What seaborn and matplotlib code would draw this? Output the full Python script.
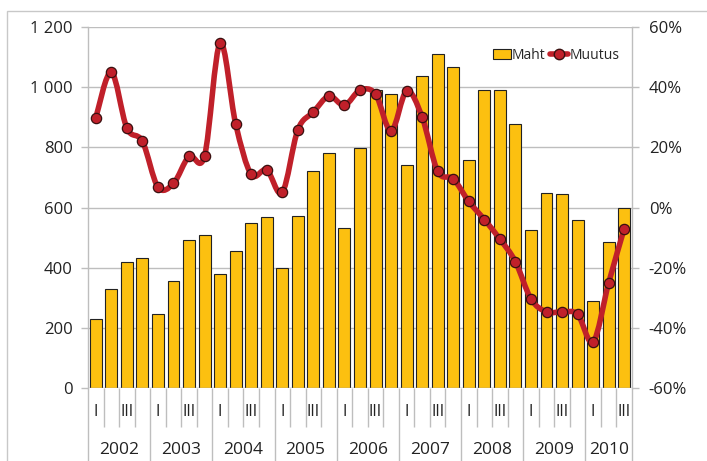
import numpy as np
import pandas as pd
import matplotlib
matplotlib.use("Agg")
import matplotlib.pyplot as plt
from matplotlib.path import Path
from matplotlib.patches import PathPatch, Patch, Rectangle
from matplotlib.lines import Line2D
from matplotlib.ticker import FuncFormatter, FixedLocator
import seaborn as sns

# ---------------- data ----------------
years = ["2002", "2003", "2004", "2005", "2006", "2007", "2008", "2009", "2010"]
quarters_per_year = [4, 4, 4, 4, 4, 4, 4, 4, 3]
quarter_names = ["I", "", "III", ""]
maht = [230, 330, 420, 432,
        245, 357, 492, 507,
        380, 457, 547, 570,
        398, 573, 720, 780,
        533, 797, 992, 977,
        740, 1037, 1110, 1068,
        758, 992, 992, 876,
        525, 648, 645, 560,
        290, 485, 600]
muutus = [29.8, 45.0, 26.4, 22.0,
          6.8, 8.0, 17.0, 17.2,
          54.7, 27.8, 11.0, 12.5,
          5.0, 25.8, 31.7, 37.0,
          34.0, 39.0, 37.7, 25.4,
          38.7, 30.0, 12.0, 9.5,
          2.0, -4.0, -10.5, -18.0,
          -30.4, -34.7, -34.7, -35.5,
          -44.7, -25.0, -7.0]

labels = []
for y, n in zip(years, quarters_per_year):
    for q in range(n):
        labels.append(f"{y}-{q+1}")
df = pd.DataFrame({"period": labels, "Maht": maht, "Muutus": muutus})

# ---------------- style ----------------
sns.set_theme(style="white")
plt.rcParams["font.family"] = ["Open Sans", "DejaVu Sans"]

BAR = "#FCC010"
RED = "#C0202A"
GRID = "#BEBEBE"
TXT = "#222222"

fig = plt.figure(figsize=(7.07, 4.61), dpi=100)
ax = fig.add_axes([88/707, 1 - 388/461, (632 - 88)/707, (388 - 27)/461])

# outer frame
fig.patches.append(Rectangle((7/707, -0.2), 1.2, 1.2 - 11/461,
                             transform=fig.transFigure, fill=False,
                             edgecolor="#C8C8C8", linewidth=1.0, zorder=0))

sns.barplot(data=df, x="period", y="Maht", color=BAR, edgecolor="#222222",
            linewidth=0.8, width=0.77, saturation=1, ax=ax, zorder=3)

n = len(df)
ax.set_xlim(-0.5, n - 0.5)
ax.set_ylim(0, 1200)
ax.set_yticks(range(0, 1201, 200))
ax.yaxis.set_major_formatter(FuncFormatter(lambda v, p: f"{int(v):,}".replace(",", " ")))
ax.grid(axis="y", color=GRID, linewidth=1.0, zorder=0)
ax.grid(axis="x", visible=False)
ax.set_axisbelow(True)
ax.set_xlabel("")
ax.set_ylabel("")

for s in ["top", "right", "bottom"]:
    ax.spines[s].set_visible(False)
ax.spines["left"].set_color(GRID)
ax.spines["left"].set_linewidth(1.0)
ax.tick_params(axis="y", left=True, length=5, width=1, color=GRID,
               labelsize=12, labelcolor=TXT, pad=6)

# x axis: category separators (minor) and year separators (major)
bounds = np.arange(n + 1) - 0.5
year_bounds = np.concatenate([[0], np.cumsum(quarters_per_year)]) - 0.5
ax.xaxis.set_major_locator(FixedLocator(year_bounds))
ax.xaxis.set_minor_locator(FixedLocator(bounds))
ax.set_xticklabels([])
ax.tick_params(axis="x", which="major", bottom=True, length=54, width=1, color=GRID)
ax.tick_params(axis="x", which="minor", bottom=True, length=28, width=1, color=GRID)
ax.axhline(0, color=GRID, linewidth=1.0, zorder=4)

trans = ax.get_xaxis_transform()
i = 0
for y, nq in zip(years, quarters_per_year):
    for q in range(nq):
        if quarter_names[q]:
            ax.text(i + q, -0.066, quarter_names[q], transform=trans,
                    ha="center", va="center", fontsize=11.5, color=TXT)
    ax.text(i + (nq - 1) / 2, -0.172, y, transform=trans,
            ha="center", va="center", fontsize=12.5, color=TXT)
    i += nq

# right axis: smoothed change line
ax2 = ax.twinx()
ax2.set_ylim(-60, 60)
ax2.set_yticks(range(-60, 61, 20))
ax2.yaxis.set_major_formatter(FuncFormatter(lambda v, p: f"{int(v)}%"))
for s in ["top", "left", "bottom"]:
    ax2.spines[s].set_visible(False)
ax2.spines["right"].set_color(GRID)
ax2.spines["right"].set_linewidth(1.0)
ax2.tick_params(axis="y", right=True, length=5, width=1, color=GRID,
                labelsize=12, labelcolor=TXT, pad=7)
ax2.grid(False)

xs = np.arange(n, dtype=float)
ys = np.array(muutus, dtype=float)
verts = [(xs[0], ys[0])]
codes = [Path.MOVETO]
for k in range(n - 1):
    p0 = np.array([xs[max(k - 1, 0)], ys[max(k - 1, 0)]])
    p1 = np.array([xs[k], ys[k]])
    p2 = np.array([xs[k + 1], ys[k + 1]])
    p3 = np.array([xs[min(k + 2, n - 1)], ys[min(k + 2, n - 1)]])
    c1 = p1 + (p2 - p0) / 6.0
    c2 = p2 - (p3 - p1) / 6.0
    verts += [tuple(c1), tuple(c2), tuple(p2)]
    codes += [Path.CURVE4] * 3
ax2.add_patch(PathPatch(Path(verts, codes), facecolor="none", edgecolor=RED,
                        linewidth=4.0, capstyle="round", joinstyle="round", zorder=5))
sns.scatterplot(x=xs, y=ys, ax=ax2, s=55, color=RED, edgecolor="#3a1010",
                linewidth=0.9, zorder=6, legend=False)

handles = [Patch(facecolor=BAR, edgecolor="#222222", linewidth=0.8),
           Line2D([0], [0], color=RED, linewidth=4.0, marker="o", markersize=7.5,
                  markerfacecolor=RED, markeredgecolor="#3a1010")]
ax2.legend(handles, ["Maht", "Muutus"], loc="upper right", ncol=2,
           bbox_to_anchor=(0.992, 0.965), frameon=False, fontsize=10,
           handlelength=1.3, handletextpad=0.1, columnspacing=0.3,
           borderaxespad=0.2, handleheight=0.7)

fig.savefig("out.png", dpi=100)
